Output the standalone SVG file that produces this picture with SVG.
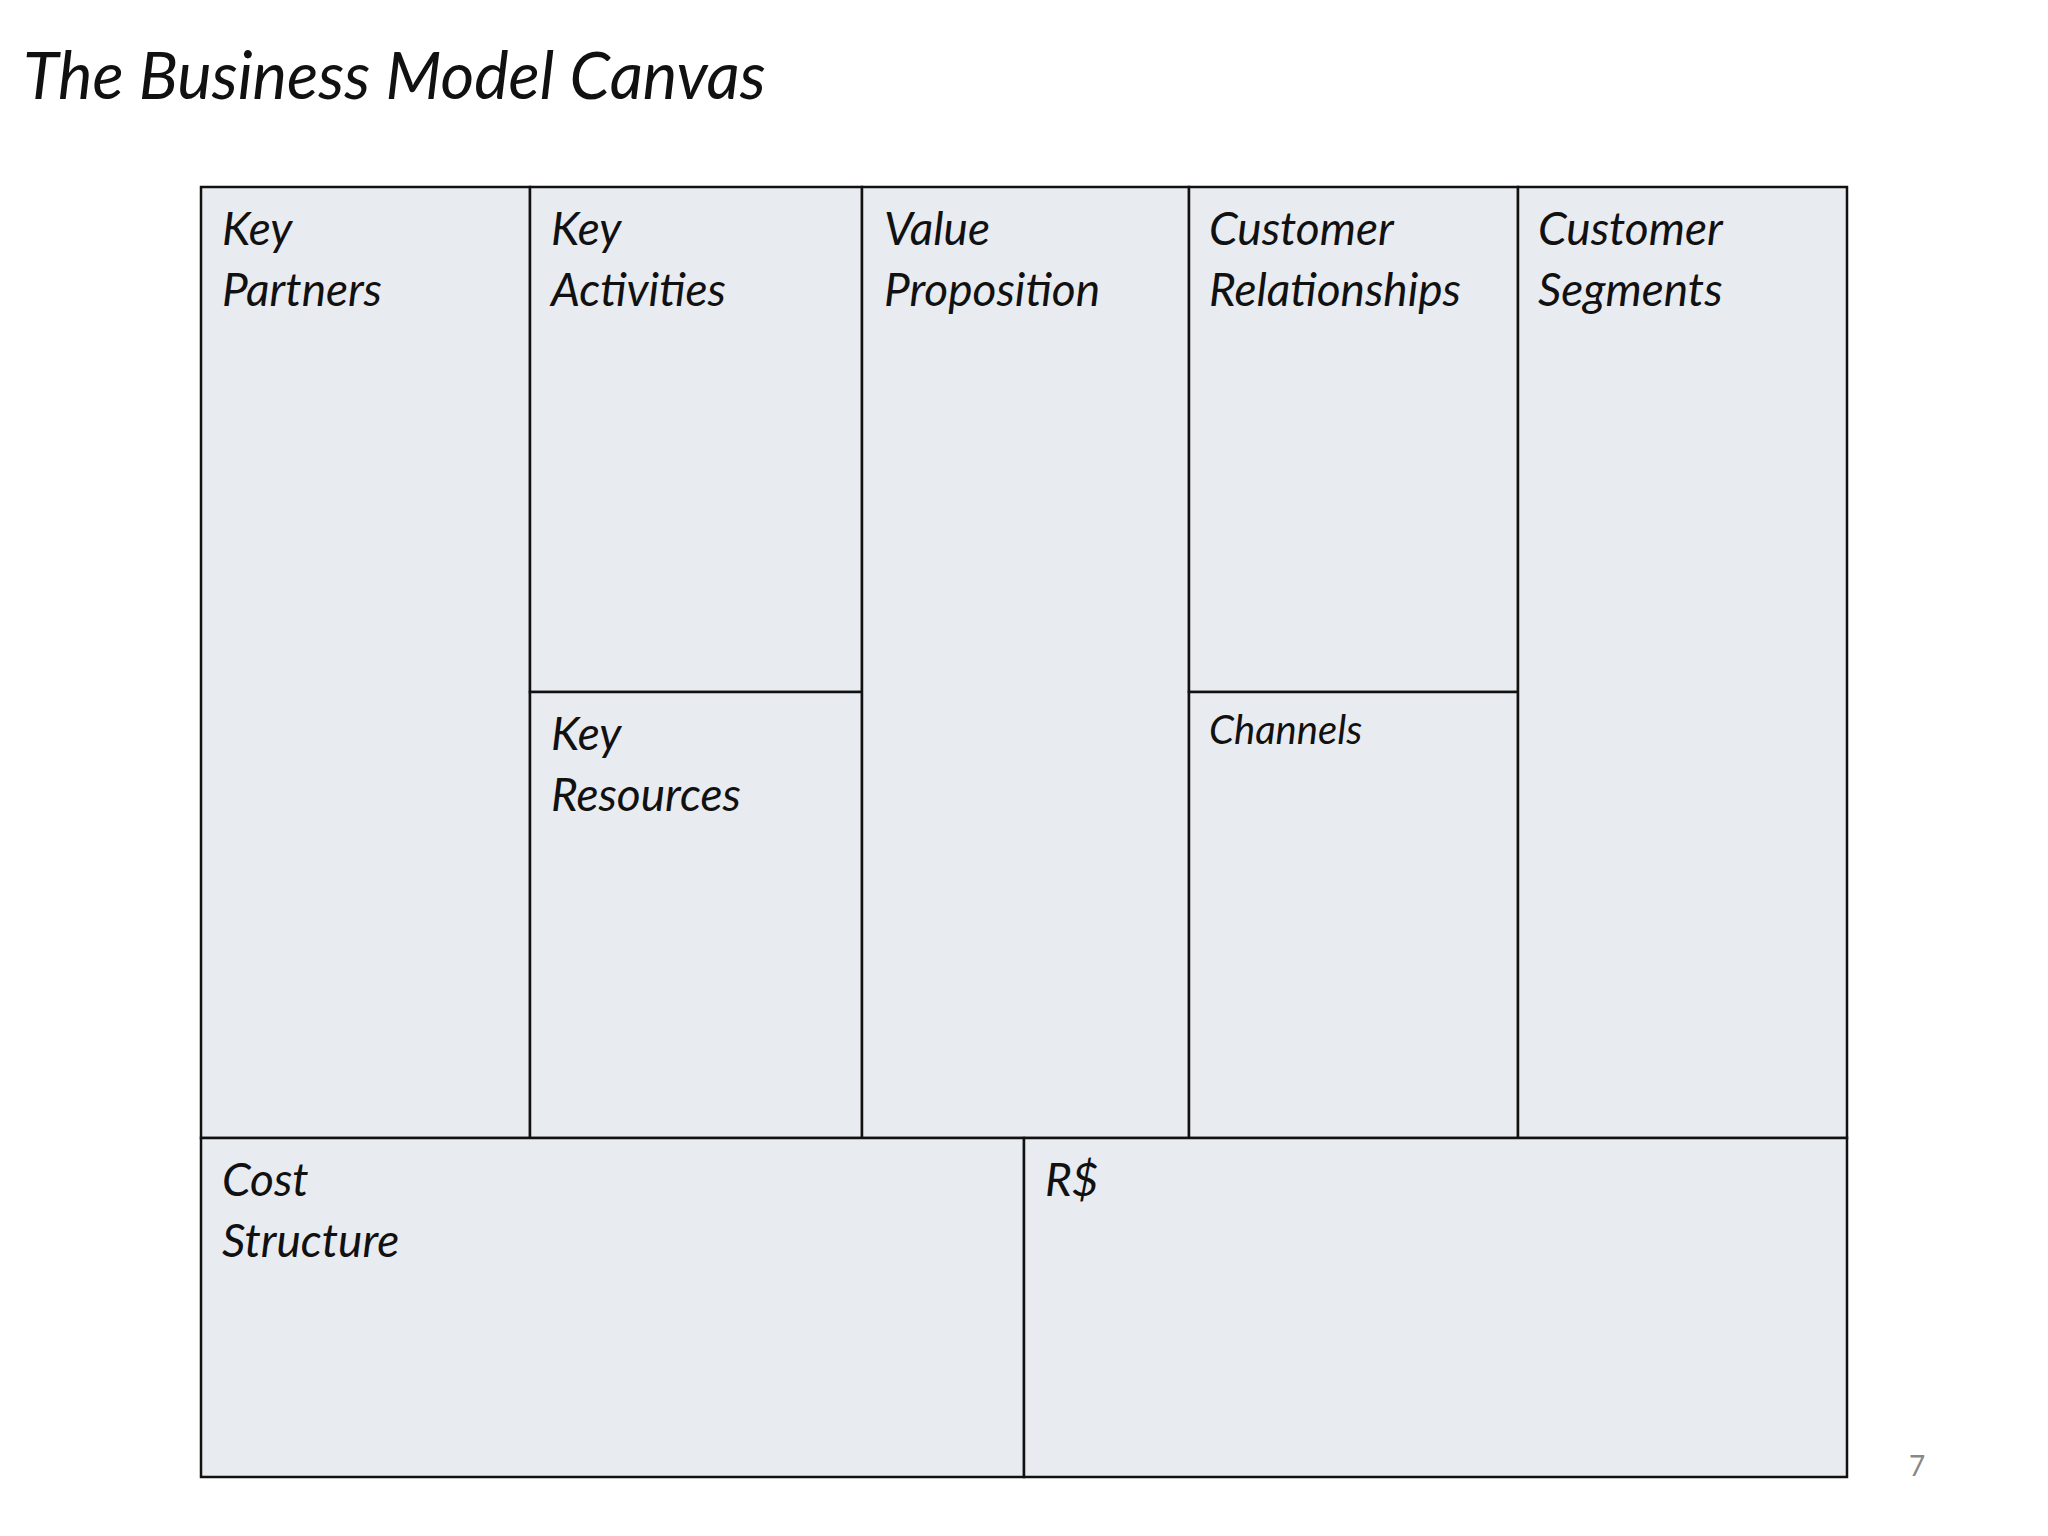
<svg xmlns="http://www.w3.org/2000/svg" width="2048" height="1536" viewBox="0 0 2048 1536">
<style>
.c{fill:#E8EBF0;stroke:#111;stroke-width:2.5}
.t{font-family:Lato,"Open Sans",sans-serif;font-style:italic;font-size:46px;fill:#111}
.s{font-size:40px}
</style>
<rect width="2048" height="1536" fill="#fff"/>
<text x="23" y="99" style="font-family:Lato,'Open Sans',sans-serif;font-style:italic;font-size:65px;fill:#111">The Business Model Canvas</text>
<g id="key-partners"><rect class="c" x="201" y="187" width="329" height="951"/><text class="t" x="222" y="245">Key</text><text class="t" x="222" y="306">Partners</text></g>
<g id="key-activities"><rect class="c" x="530" y="187" width="332" height="505"/><text class="t" x="551" y="245">Key</text><text class="t" x="551" y="306">Activities</text></g>
<g id="key-resources"><rect class="c" x="530" y="692" width="332" height="446"/><text class="t" x="551" y="750">Key</text><text class="t" x="551" y="811">Resources</text></g>
<g id="value-proposition"><rect class="c" x="862" y="187" width="327" height="951"/><text class="t" x="884" y="245">Value</text><text class="t" x="884" y="306">Proposition</text></g>
<g id="customer-relationships"><rect class="c" x="1189" y="187" width="329" height="505"/><text class="t" x="1209" y="245">Customer</text><text class="t" x="1209" y="306">Relationships</text></g>
<g id="channels"><rect class="c" x="1189" y="692" width="329" height="446"/><text class="t s" x="1209" y="744">Channels</text></g>
<g id="customer-segments"><rect class="c" x="1518" y="187" width="329" height="951"/><text class="t" x="1538" y="245">Customer</text><text class="t" x="1538" y="306">Segments</text></g>
<g id="cost-structure"><rect class="c" x="201" y="1138" width="823" height="339"/><text class="t" x="222" y="1196">Cost</text><text class="t" x="222" y="1257">Structure</text></g>
<g id="revenue"><rect class="c" x="1024" y="1138" width="823" height="339"/><text class="t" x="1045" y="1196">R$</text></g>
<g id="connectors"></g>
<text x="1909" y="1476" style="font-family:Lato,sans-serif;font-size:28px;fill:#888">7</text>
</svg>
